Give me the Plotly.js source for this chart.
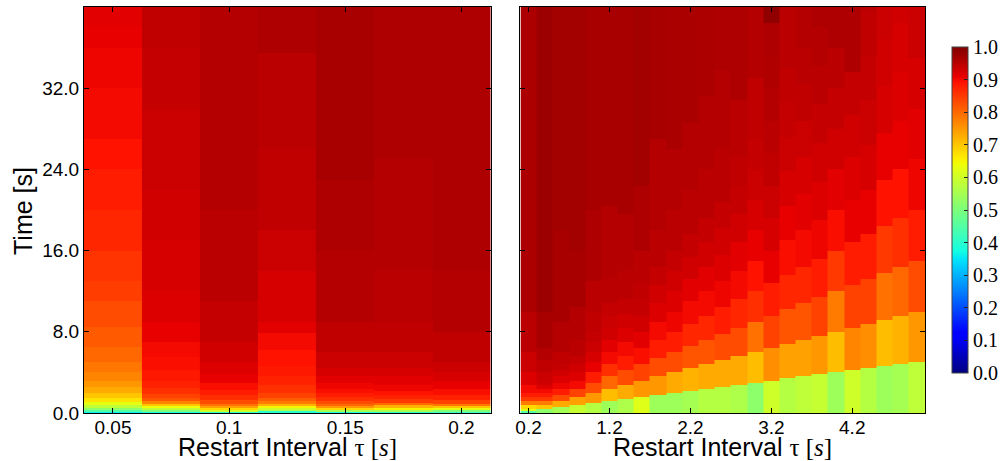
<!DOCTYPE html>
<html>
<head>
<meta charset="utf-8">
<script src="https://cdn.plot.ly/plotly-3.0.1.min.js"></script>
<style>html,body{margin:0;padding:0;background:#fff;}#chart{width:1002px;height:461px;}</style>
</head>
<body>
<div id="chart"></div>
<script>
// ---- Left panel: restart interval tau (s), piecewise-constant values over time ----
const leftTau = [0.05, 0.075, 0.1, 0.125, 0.15, 0.175, 0.2];
const leftStart = [
  [0,0.1,0.3,0.5,0.8,1.1,1.5,2.0,2.6,3.2,4.0,5,6.5,8.5,11,13,16,20,24,27,32,36,38],
  [0,0.1,0.3,0.45,0.65,0.9,1.2,1.5,1.9,2.5,3.2,4.2,5.5,7,9,12,17,22,30,36],
  [0,0.1,0.3,0.45,0.65,0.9,1.3,1.8,2.3,3.0,3.8,5,7,11,20],
  [0,0.15,0.3,0.5,0.7,0.9,1.2,1.5,2.0,2.8,3.6,4.6,6.2,7.9,9,14,18,26,35.5],
  [0,0.1,0.3,0.5,0.7,0.9,1.2,1.6,2.0,2.4,3.0,3.6,4.4,6,9,16,23],
  [0,0.1,0.3,0.5,0.75,1.0,1.4,1.8,2.2,2.8,3.6,4.4,6,9,14,25],
  [0,0.1,0.3,0.45,0.65,0.9,1.3,1.8,2.4,3.2,4,5,8,14]
];
const leftVal = [
  [0.36,0.45,0.52,0.58,0.63,0.67,0.7,0.73,0.75,0.77,0.785,0.8,0.815,0.83,0.845,0.855,0.87,0.88,0.89,0.9,0.905,0.91,0.915],
  [0.38,0.5,0.58,0.64,0.7,0.77,0.82,0.84,0.86,0.875,0.885,0.895,0.9,0.91,0.92,0.925,0.93,0.935,0.94,0.945],
  [0.4,0.6,0.68,0.74,0.79,0.83,0.86,0.88,0.895,0.91,0.92,0.93,0.94,0.95,0.955],
  [0.4,0.55,0.6,0.65,0.72,0.78,0.81,0.84,0.86,0.875,0.885,0.89,0.9,0.915,0.925,0.935,0.945,0.95,0.96],
  [0.38,0.55,0.68,0.75,0.8,0.83,0.86,0.88,0.895,0.905,0.915,0.925,0.935,0.945,0.955,0.96,0.965],
  [0.4,0.55,0.65,0.72,0.8,0.85,0.875,0.89,0.905,0.915,0.925,0.935,0.945,0.95,0.955,0.96],
  [0.42,0.5,0.63,0.7,0.78,0.84,0.875,0.895,0.91,0.925,0.935,0.945,0.955,0.96]
];

// ---- Right panel ----
const rightTau = [0.2,0.4,0.6,0.8,1.0,1.2,1.4,1.6,1.8,2.0,2.2,2.4,2.6,2.8,3.0,3.2,3.4,3.6,3.8,4.0,4.2,4.4,4.6,4.8,5.0];
const rightStart = [
  [0,0.2,0.4,0.8,1.2,1.6,2.0,2.8,4.0,6.0,10],
  [0,0.4,0.8,1.2,1.6,2.0,2.4,2.8,3.2,4.0,5.2,6.4,10],
  [0,0.6,1.2,1.8,2.4,3.0,3.6,4.2,4.8,6.0,9.0,18],
  [0,0.8,1.6,2.4,3.2,4.0,4.8,5.6,7.2,10.4,16],
  [0,1,2,3,4,5,6,7,8,10,13,20],
  [0,1.2,2.4,3.6,4.8,6.0,7.2,8.4,9.6,10.8,13.2,20.4],
  [0,1.4,2.8,4.2,5.6,7.0,8.4,9.8,11.2,14,19.6],
  [0,1.6,3.2,4.8,6.4,8.0,9.6,11.2,12.8,16,22.4],
  [0,1.8,3.6,5.4,7.2,9.0,10.8,12.6,14.4,18,27],
  [0,2,4,6,8,10,12,14,16,20,26],
  [0,2.2,4.4,6.6,8.8,11,13.2,15.4,17.6,22,28.6],
  [0,2.4,4.8,7.2,9.6,12,14.4,16.8,19.2,24,31.2],
  [0,2.6,5.2,7.8,10.4,13,15.6,18.2,20.8,26,33.8],
  [0,2.8,5.6,8.4,11.2,14,16.8,19.6,22.4,25.2,30.8],
  [0,3,6,9,12,15,18,21,24,27,33],
  [0,3.2,6.4,9.6,12.8,16,19.2,22.4,25.6,28.8,32,35.2,38.4],
  [0,3.4,6.8,10.2,13.6,17,20.4,23.8,27.2,30.6,34],
  [0,3.6,7.2,10.8,14.4,18,21.6,25.2,28.8,32.4,36],
  [0,3.8,7.6,11.4,15.2,19,22.8,26.6,30.4,34.2,38],
  [0,4,8,12,16,20,24,28,32,36],
  [0,4.2,8.4,12.6,16.8,21,25.2,29.4,33.6,37.8],
  [0,4.4,8.8,13.2,17.6,22,26.4,30.8,35.2,39.6],
  [0,4.6,9.2,13.8,18.4,23,27.6,32.2,36.8],
  [0,4.8,9.6,14.4,19.2,24,28.8,33.6,38.4],
  [0,5,10,15,20,25,30,35]
];
const rightVal = [
  [0.45,0.62,0.68,0.78,0.85,0.88,0.9,0.92,0.935,0.95,0.962],
  [0.52,0.7,0.78,0.85,0.88,0.9,0.92,0.93,0.935,0.945,0.955,0.965,0.975],
  [0.55,0.73,0.83,0.88,0.905,0.92,0.93,0.94,0.945,0.955,0.965,0.97],
  [0.59,0.74,0.84,0.9,0.92,0.93,0.94,0.95,0.955,0.965,0.97],
  [0.57,0.75,0.83,0.88,0.91,0.925,0.935,0.94,0.945,0.95,0.96,0.965],
  [0.54,0.71,0.8,0.86,0.9,0.915,0.93,0.935,0.94,0.95,0.955,0.965],
  [0.56,0.73,0.83,0.88,0.9,0.92,0.93,0.94,0.95,0.955,0.965],
  [0.62,0.75,0.84,0.895,0.915,0.93,0.94,0.945,0.95,0.96,0.97],
  [0.54,0.75,0.83,0.88,0.9,0.92,0.93,0.94,0.95,0.955,0.965],
  [0.54,0.73,0.83,0.88,0.905,0.92,0.93,0.94,0.95,0.955,0.963],
  [0.55,0.72,0.82,0.87,0.9,0.915,0.93,0.94,0.95,0.955,0.963],
  [0.57,0.73,0.82,0.87,0.9,0.915,0.93,0.94,0.95,0.955,0.962],
  [0.57,0.73,0.83,0.88,0.905,0.92,0.93,0.94,0.95,0.955,0.96],
  [0.56,0.73,0.83,0.87,0.9,0.915,0.93,0.94,0.945,0.95,0.96],
  [0.52,0.71,0.79,0.86,0.89,0.91,0.925,0.935,0.94,0.945,0.955],
  [0.6,0.76,0.84,0.88,0.91,0.925,0.935,0.945,0.95,0.955,0.958,0.96,0.985],
  [0.57,0.74,0.82,0.87,0.895,0.91,0.925,0.935,0.94,0.945,0.95],
  [0.58,0.74,0.82,0.87,0.9,0.915,0.925,0.935,0.945,0.95,0.955],
  [0.59,0.75,0.84,0.88,0.905,0.92,0.93,0.94,0.95,0.955,0.96],
  [0.54,0.71,0.78,0.85,0.895,0.915,0.93,0.94,0.95,0.96],
  [0.6,0.77,0.84,0.88,0.91,0.92,0.93,0.94,0.96,0.96],
  [0.57,0.76,0.84,0.88,0.91,0.925,0.935,0.94,0.945,0.95],
  [0.54,0.71,0.79,0.85,0.89,0.91,0.925,0.93,0.935],
  [0.55,0.72,0.8,0.86,0.89,0.91,0.92,0.925,0.93],
  [0.58,0.75,0.83,0.88,0.905,0.915,0.925,0.935]
];

const timeTop = 40;
const timeTicks = [0, 8, 16, 24, 32];
const timeTickText = ['0.0', '8.0', '16.0', '24.0', '32.0'];
const leftXTicks = [0.05, 0.1, 0.15, 0.2];
const leftXText = ['0.05', '0.1', '0.15', '0.2'];
const rightXTicks = [0.2, 1.2, 2.2, 3.2, 4.2];
const rightXText = ['0.2', '1.2', '2.2', '3.2', '4.2'];
const cbTicks = [0, 0.1, 0.2, 0.3, 0.4, 0.5, 0.6, 0.7, 0.8, 0.9, 1.0];
const cbText = ['0.0','0.1','0.2','0.3','0.4','0.5','0.6','0.7','0.8','0.9','1.0'];
const yTitle = 'Time [s]';
const xTitle = 'Restart Interval <span style="font-family:\'Liberation Serif\',serif">τ [<i>s</i>]</span>';

// matplotlib "jet"
const jet = [
  [0, 'rgb(0,0,128)'], [0.11, 'rgb(0,0,255)'], [0.125, 'rgb(0,0,255)'],
  [0.34, 'rgb(0,219,255)'], [0.35, 'rgb(0,229,247)'], [0.375, 'rgb(21,255,226)'],
  [0.64, 'rgb(239,255,8)'], [0.65, 'rgb(247,245,0)'], [0.66, 'rgb(255,236,0)'],
  [0.89, 'rgb(255,19,0)'], [0.91, 'rgb(232,0,0)'], [1, 'rgb(128,0,0)']
];

function buildGrid(starts, vals, top) {
  const set = new Set();
  starts.forEach(a => a.forEach(t => set.add(Math.round(t * 1e6) / 1e6)));
  set.add(top);
  const edges = [...set].filter(t => t <= top).sort((a, b) => a - b);
  const z = [];
  for (let i = 0; i < edges.length - 1; i++) {
    const mid = (edges[i] + edges[i + 1]) / 2;
    z.push(starts.map((s, c) => {
      let v = vals[c][0];
      for (let j = 0; j < s.length; j++) if (s[j] <= mid) v = vals[c][j];
      return v;
    }));
  }
  return { edges, z };
}

const L = buildGrid(leftStart, leftVal, timeTop);
const R = buildGrid(rightStart, rightVal, timeTop);

const W = 1002, H = 461;
const px = (a, b) => [a / W, b / W];
const py = (top, bot) => [(H - bot) / H, (H - top) / H];

const tickFont = { family: 'Liberation Sans, Arial, sans-serif', size: 19, color: '#000' };
const titleFont = { family: 'Liberation Sans, Arial, sans-serif', size: 25, color: '#000' };

const axisCommon = {
  showline: true, linecolor: '#000', linewidth: 1, mirror: 'ticks',
  ticks: 'inside', ticklen: 5, tickwidth: 1, tickcolor: '#000',
  showgrid: false, zeroline: false, automargin: false, tickfont: tickFont
};

const traces = [
  { type: 'heatmap', x: leftTau, y: L.edges, z: L.z, coloraxis: 'coloraxis',
    xaxis: 'x', yaxis: 'y', zsmooth: false, hoverinfo: 'skip' },
  { type: 'heatmap', x: rightTau, y: R.edges, z: R.z, coloraxis: 'coloraxis',
    xaxis: 'x2', yaxis: 'y2', zsmooth: false, hoverinfo: 'skip' }
];

const layout = {
  width: W, height: H,
  margin: { l: 0, r: 0, t: 0, b: 0 },
  paper_bgcolor: '#fff', plot_bgcolor: '#fff',
  showlegend: false,
  xaxis: Object.assign({}, axisCommon, {
    domain: px(84, 491), range: [0.0375, 0.2125],
    tickvals: leftXTicks, ticktext: leftXText, anchor: 'y', ticklabelstandoff: -3
  }),
  yaxis: Object.assign({}, axisCommon, {
    domain: py(7, 413), range: [0, timeTop],
    tickvals: timeTicks, ticktext: timeTickText, anchor: 'x'
  }),
  xaxis2: Object.assign({}, axisCommon, {
    domain: px(521, 926), range: [0.1, 5.1],
    tickvals: rightXTicks, ticktext: rightXText, anchor: 'y2', ticklabelstandoff: -3
  }),
  yaxis2: Object.assign({}, axisCommon, {
    domain: py(7, 413), range: [0, timeTop],
    tickvals: timeTicks, showticklabels: false, anchor: 'x2'
  }),
  annotations: [
    { text: xTitle, xref: 'paper', yref: 'paper', x: 287.5 / W, y: (H - 447) / H,
      xanchor: 'center', yanchor: 'middle', showarrow: false, font: titleFont },
    { text: xTitle, xref: 'paper', yref: 'paper', x: 723.5 / W, y: (H - 447) / H,
      xanchor: 'center', yanchor: 'middle', showarrow: false, font: titleFont },
    { text: yTitle, xref: 'paper', yref: 'paper', x: 23 / W, y: (H - 211) / H,
      xanchor: 'center', yanchor: 'middle', textangle: -90, showarrow: false, font: titleFont }
  ],
  coloraxis: {
    cmin: 0, cmax: 1, colorscale: jet,
    colorbar: {
      x: 952 / W, xanchor: 'left', xpad: 0, ypad: 0,
      y: (H - 210) / H, yanchor: 'middle',
      len: 326 / H, lenmode: 'fraction',
      thickness: 16, thicknessmode: 'pixels',
      outlinewidth: 1, outlinecolor: '#444',
      ticks: 'inside', ticklen: 4, tickcolor: '#222', tickwidth: 1,
      tickvals: cbTicks, ticktext: cbText,
      tickfont: { family: 'Liberation Serif, serif', size: 20, color: '#000' }
    }
  }
};

Plotly.newPlot('chart', traces, layout, { displayModeBar: false, staticPlot: true });
</script>
</body>
</html>
